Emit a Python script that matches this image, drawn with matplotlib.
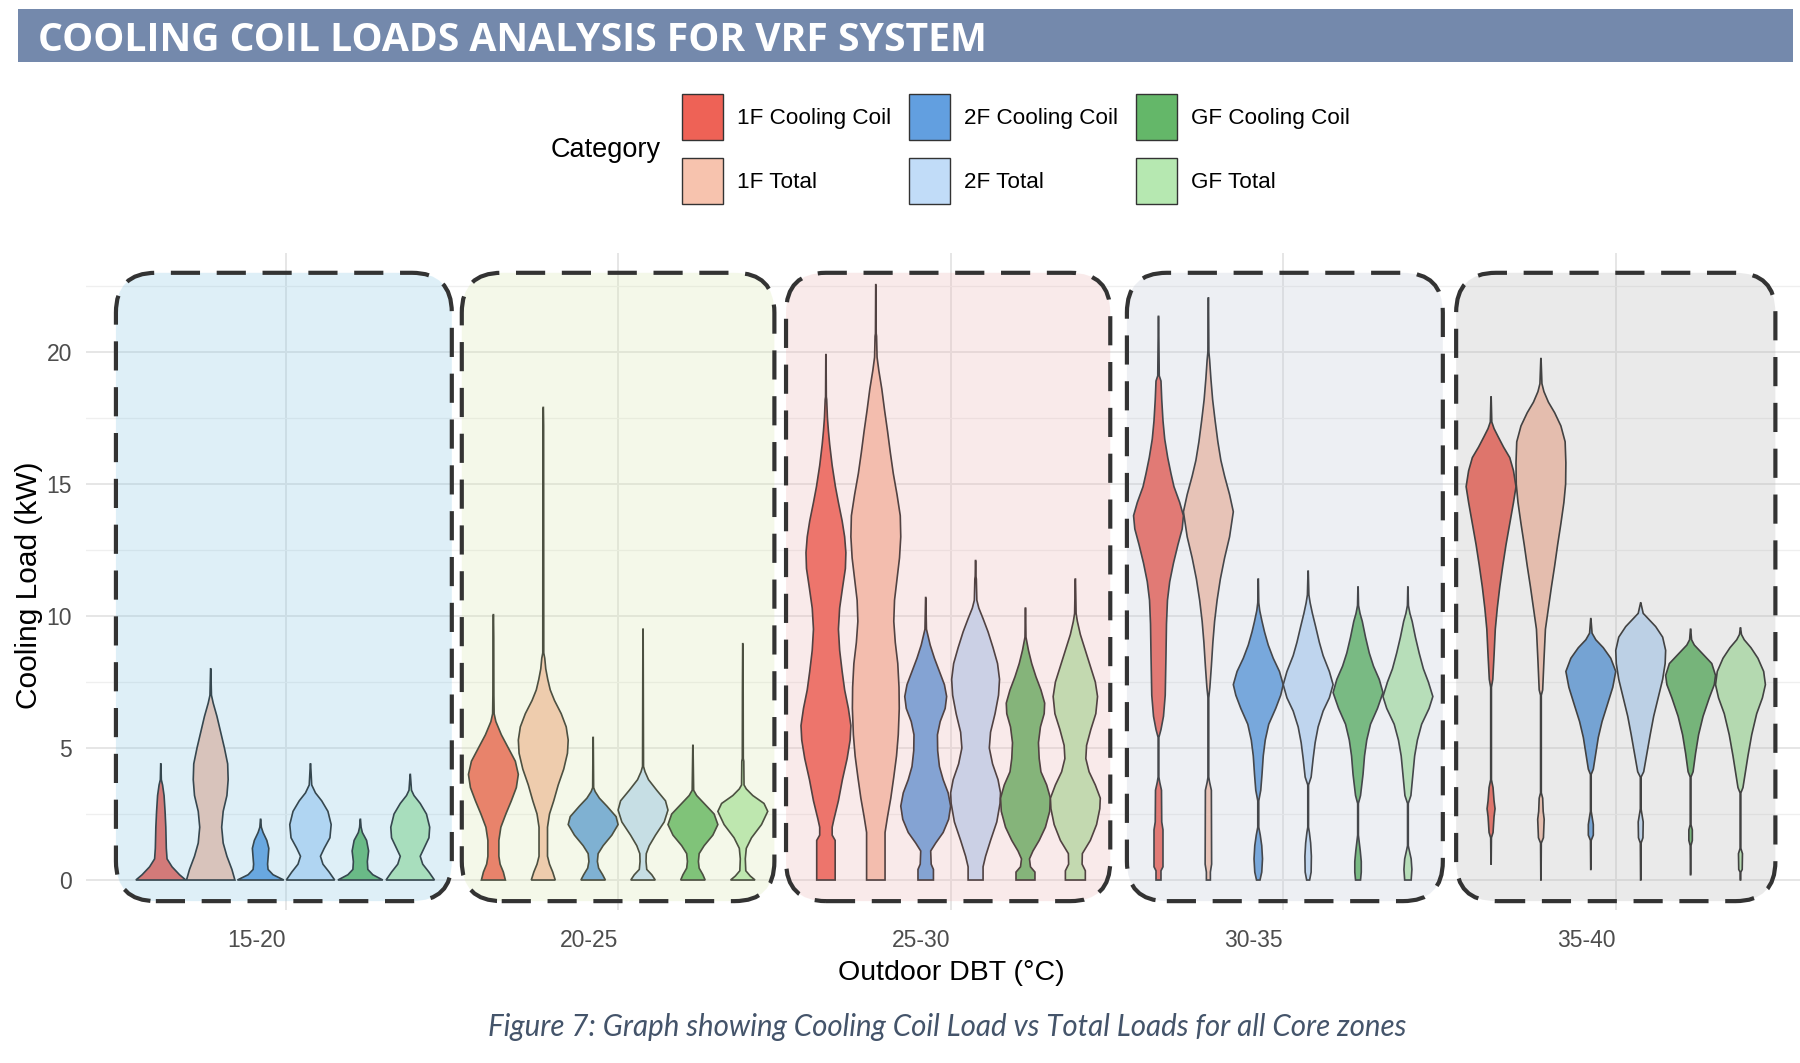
import numpy as np
import matplotlib
matplotlib.use("Agg")
import matplotlib.pyplot as plt
from matplotlib.patches import FancyBboxPatch, Patch, Rectangle

# ---- data -------------------------------------------------------------
bands = ["15-20", "20-25", "25-30", "30-35", "35-40"]
categories = ["1F Cooling Coil", "1F Total", "2F Cooling Coil",
              "2F Total", "GF Cooling Coil", "GF Total"]
colors = ["#ee6256", "#f7c3ae", "#629fe0", "#c1dcf8", "#64b769", "#b6e8b1"]

# violin outlines: (load kW, relative half width)
band_15_20 = {
    "1F Cooling Coil": [(0, 1.0), (0.2, 0.75), (0.5, 0.45), (0.8, 0.25), (1.2, 0.22), (2.0, 0.2),
                        (2.6, 0.17), (3.2, 0.13), (3.6, 0.07), (3.8, 0.02), (4.4, 0.005)],
    "1F Total": [(0, 0.97), (0.4, 0.85), (0.9, 0.65), (1.4, 0.5), (2.0, 0.44), (2.6, 0.5), (3.2, 0.65),
                 (3.8, 0.7), (4.4, 0.68), (5.0, 0.55), (5.6, 0.4), (6.2, 0.25), (6.7, 0.1), (7.0, 0.03),
                 (8.0, 0.005)],
    "2F Cooling Coil": [(0, 0.93), (0.2, 0.5), (0.4, 0.3), (0.6, 0.28), (1.2, 0.33), (1.5, 0.25),
                        (1.8, 0.1), (2.0, 0.03), (2.3, 0.005)],
    "2F Total": [(0, 0.97), (0.3, 0.75), (0.6, 0.5), (0.9, 0.4), (1.2, 0.55), (1.6, 0.78), (2.1, 0.83),
                 (2.6, 0.7), (3.0, 0.45), (3.3, 0.2), (3.6, 0.05), (4.4, 0.005)],
    "GF Cooling Coil": [(0, 0.9), (0.2, 0.5), (0.4, 0.3), (0.7, 0.28), (1.1, 0.33), (1.5, 0.25),
                        (1.8, 0.08), (2.0, 0.03), (2.3, 0.005)],
    "GF Total": [(0, 0.97), (0.3, 0.75), (0.6, 0.5), (0.9, 0.4), (1.2, 0.55), (1.6, 0.75), (2.0, 0.78),
                 (2.5, 0.65), (2.9, 0.4), (3.2, 0.15), (3.4, 0.05), (4.0, 0.005)],
}
band_20_25 = {
    "1F Cooling Coil": [(0, 0.48), (0.3, 0.4), (0.6, 0.27), (0.9, 0.22), (1.5, 0.22), (2.0, 0.3),
                        (2.5, 0.5), (3.0, 0.72), (3.5, 0.92), (4.0, 1.0), (4.5, 0.88), (5.0, 0.6),
                        (5.5, 0.32), (6.0, 0.1), (6.3, 0.03), (7.0, 0.02), (9.2, 0.015), (10.05, 0.005)],
    "1F Total": [(0, 0.48), (0.3, 0.38), (0.6, 0.25), (0.9, 0.17), (2.0, 0.17), (2.5, 0.25), (3.0, 0.42),
                 (3.6, 0.6), (4.2, 0.82), (4.8, 0.97), (5.3, 1.0), (5.8, 0.92), (6.3, 0.72), (6.8, 0.45),
                 (7.2, 0.28), (7.6, 0.18), (8.0, 0.1), (8.4, 0.06), (8.6, 0.02), (17.2, 0.015),
                 (17.9, 0.005)],
    "2F Cooling Coil": [(0, 0.49), (0.2, 0.38), (0.45, 0.22), (0.7, 0.17), (1.0, 0.2), (1.3, 0.4),
                        (1.7, 0.75), (2.1, 1.0), (2.4, 0.92), (2.8, 0.55), (3.1, 0.25), (3.35, 0.08),
                        (3.5, 0.02), (5.4, 0.005)],
    "2F Total": [(0, 0.49), (0.2, 0.35), (0.4, 0.15), (0.7, 0.12), (1.0, 0.13), (1.3, 0.25), (1.7, 0.5),
                 (2.2, 0.85), (2.65, 1.0), (3.0, 0.9), (3.4, 0.55), (3.8, 0.22), (4.1, 0.08), (4.3, 0.02),
                 (9.5, 0.005)],
    "GF Cooling Coil": [(0, 0.49), (0.2, 0.4), (0.45, 0.25), (0.7, 0.22), (1.0, 0.25), (1.3, 0.45),
                        (1.7, 0.8), (2.1, 1.0), (2.5, 0.85), (2.9, 0.45), (3.2, 0.15), (3.4, 0.03),
                        (5.1, 0.005)],
    "GF Total": [(0, 0.49), (0.15, 0.3), (0.35, 0.12), (0.8, 0.1), (1.2, 0.14), (1.6, 0.35), (2.1, 0.75),
                 (2.6, 1.0), (2.9, 0.85), (3.2, 0.4), (3.45, 0.14), (3.6, 0.05), (4.5, 0.04), (4.6, 0.02),
                 (7.1, 0.015), (8.95, 0.005)],
}
band_25_30 = {
    "1F Cooling Coil": [(0, 0.37), (1.5, 0.37), (1.7, 0.25), (2.0, 0.25), (2.3, 0.32), (3.0, 0.5),
                        (3.8, 0.66), (4.6, 0.85), (5.3, 0.97), (5.85, 1.0), (6.5, 0.9), (7.2, 0.75),
                        (7.9, 0.65), (8.7, 0.55), (9.5, 0.5), (10.3, 0.55), (11.1, 0.67), (11.8, 0.78),
                        (12.4, 0.8), (13.0, 0.75), (13.6, 0.65), (14.3, 0.5), (14.9, 0.38), (15.7, 0.25),
                        (16.5, 0.15), (17.0, 0.1), (17.5, 0.06), (18.2, 0.03), (18.3, 0.015),
                        (19.9, 0.005)],
    "1F Total": [(0, 0.37), (1.8, 0.37), (2.4, 0.47), (3.1, 0.6), (3.9, 0.72), (4.7, 0.83), (5.5, 0.9),
                 (6.5, 0.94), (7.3, 0.93), (8.2, 0.88), (9.0, 0.78), (9.8, 0.72), (10.6, 0.75),
                 (11.4, 0.85), (12.2, 0.95), (13.0, 1.0), (13.8, 0.98), (14.6, 0.85), (15.4, 0.7),
                 (16.2, 0.58), (17.0, 0.47), (17.8, 0.35), (18.6, 0.24), (19.3, 0.12), (19.8, 0.05),
                 (20.6, 0.03), (20.7, 0.015), (22.55, 0.005)],
    "2F Cooling Coil": [(0, 0.31), (0.4, 0.31), (0.6, 0.22), (1.1, 0.2), (1.4, 0.4), (1.8, 0.7),
                        (2.3, 0.92), (2.8, 1.0), (3.3, 0.9), (3.8, 0.7), (4.3, 0.55), (4.9, 0.48),
                        (5.5, 0.47), (6.0, 0.58), (6.5, 0.78), (6.95, 0.84), (7.4, 0.75), (7.9, 0.55),
                        (8.4, 0.35), (8.9, 0.18), (9.3, 0.08), (9.5, 0.03), (10.7, 0.005)],
    "2F Total": [(0, 0.3), (0.5, 0.3), (0.9, 0.4), (1.5, 0.6), (2.2, 0.85), (2.9, 0.98), (3.3, 1.0),
                 (3.8, 0.9), (4.4, 0.68), (5.0, 0.55), (5.6, 0.6), (6.3, 0.78), (7.0, 0.92), (7.6, 0.96),
                 (8.2, 0.88), (8.8, 0.7), (9.4, 0.5), (9.9, 0.3), (10.3, 0.13), (10.6, 0.05),
                 (11.4, 0.03), (11.5, 0.015), (12.1, 0.005)],
    "GF Cooling Coil": [(0, 0.38), (0.3, 0.38), (0.5, 0.2), (0.8, 0.16), (1.1, 0.3), (1.5, 0.55),
                        (2.0, 0.8), (2.6, 0.97), (3.1, 1.0), (3.6, 0.85), (4.1, 0.62), (4.6, 0.55),
                        (5.2, 0.52), (5.8, 0.6), (6.3, 0.75), (6.7, 0.77), (7.2, 0.62), (7.7, 0.42),
                        (8.2, 0.25), (8.7, 0.12), (9.0, 0.06), (9.2, 0.02), (10.3, 0.005)],
    "GF Total": [(0, 0.4), (0.35, 0.4), (0.6, 0.27), (1.0, 0.28), (1.5, 0.6), (2.1, 0.85), (2.7, 0.98),
                 (3.1, 1.0), (3.6, 0.8), (4.1, 0.55), (4.6, 0.42), (5.1, 0.45), (5.7, 0.62), (6.3, 0.82),
                 (6.95, 0.89), (7.5, 0.8), (8.1, 0.6), (8.7, 0.4), (9.3, 0.2), (9.8, 0.08), (10.1, 0.03),
                 (11.4, 0.005)],
}
band_30_35 = {
    "1F Cooling Coil": [(0, 0.1), (0.35, 0.1), (0.5, 0.18), (1.9, 0.18), (2.2, 0.13), (3.4, 0.12),
                        (3.7, 0.05), (3.9, 0.015), (5.4, 0.015), (5.7, 0.1), (6.2, 0.2), (7.0, 0.27),
                        (8.5, 0.3), (9.7, 0.32), (10.6, 0.36), (11.3, 0.45), (12.0, 0.6), (12.7, 0.78),
                        (13.3, 0.95), (13.8, 1.0), (14.3, 0.85), (14.9, 0.62), (15.4, 0.5), (16.0, 0.37),
                        (16.7, 0.25), (17.4, 0.18), (18.2, 0.13), (18.9, 0.1), (19.1, 0.03),
                        (21.35, 0.005)],
    "1F Total": [(0, 0.08), (0.3, 0.08), (0.6, 0.13), (3.4, 0.12), (3.7, 0.05), (3.9, 0.015),
                 (6.9, 0.015), (7.3, 0.06), (8.1, 0.12), (9.0, 0.18), (9.8, 0.25), (10.6, 0.35),
                 (11.4, 0.48), (12.2, 0.65), (13.0, 0.85), (13.95, 1.0), (14.6, 0.85), (15.3, 0.65),
                 (15.9, 0.5), (16.6, 0.38), (17.4, 0.27), (18.2, 0.17), (19.0, 0.1), (19.7, 0.05),
                 (20.0, 0.02), (22.05, 0.005)],
    "2F Cooling Coil": [(0, 0.07), (0.3, 0.14), (0.8, 0.17), (1.3, 0.14), (1.7, 0.08), (2.0, 0.02),
                        (3.0, 0.02), (3.4, 0.1), (4.0, 0.15), (4.7, 0.2), (5.3, 0.28), (5.9, 0.42),
                        (6.5, 0.7), (7.0, 0.9), (7.4, 1.0), (7.9, 0.85), (8.4, 0.6), (8.9, 0.4),
                        (9.4, 0.25), (9.8, 0.15), (10.2, 0.06), (10.5, 0.02), (11.4, 0.005)],
    "2F Total": [(0, 0.06), (0.3, 0.12), (0.9, 0.13), (1.4, 0.1), (1.8, 0.05), (2.0, 0.015),
                 (3.6, 0.015), (3.9, 0.12), (4.6, 0.2), (5.2, 0.28), (5.8, 0.4), (6.4, 0.6), (6.9, 0.85),
                 (7.4, 1.0), (7.9, 0.85), (8.5, 0.6), (9.0, 0.45), (9.6, 0.3), (10.1, 0.17), (10.5, 0.08),
                 (10.8, 0.03), (11.7, 0.005)],
    "GF Cooling Coil": [(0, 0.1), (0.3, 0.13), (0.7, 0.13), (1.1, 0.09), (1.5, 0.04), (1.7, 0.015),
                        (2.9, 0.015), (3.2, 0.1), (4.0, 0.2), (4.7, 0.26), (5.3, 0.35), (5.9, 0.5),
                        (6.5, 0.78), (7.1, 1.0), (7.6, 0.85), (8.1, 0.62), (8.6, 0.45), (9.2, 0.3),
                        (9.8, 0.17), (10.1, 0.08), (10.4, 0.02), (11.1, 0.005)],
    "GF Total": [(0, 0.13), (0.4, 0.16), (0.8, 0.13), (1.1, 0.06), (1.3, 0.015), (2.9, 0.015),
                 (3.2, 0.12), (4.0, 0.2), (4.7, 0.27), (5.3, 0.38), (5.9, 0.55), (6.5, 0.85), (6.95, 1.0),
                 (7.5, 0.82), (8.0, 0.62), (8.6, 0.45), (9.2, 0.3), (9.8, 0.17), (10.1, 0.08),
                 (10.4, 0.02), (11.1, 0.005)],
}
band_35_40 = {
    "1F Cooling Coil": [(0.6, 0.005), (1.6, 0.015), (1.8, 0.08), (2.4, 0.12), (2.7, 0.16), (3.0, 0.12),
                        (3.5, 0.08), (3.8, 0.015), (7.3, 0.015), (7.6, 0.07), (8.5, 0.12), (9.5, 0.17),
                        (10.3, 0.25), (11.1, 0.35), (11.9, 0.47), (12.7, 0.6), (13.5, 0.75), (14.3, 0.9),
                        (14.9, 1.0), (15.5, 0.9), (16.0, 0.75), (16.4, 0.5), (16.8, 0.28), (17.1, 0.12),
                        (17.35, 0.03), (18.3, 0.005)],
    "1F Total": [(0, 0.005), (1.4, 0.015), (1.6, 0.1), (2.3, 0.13), (2.6, 0.09), (3.1, 0.07),
                 (3.3, 0.015), (7.0, 0.015), (7.2, 0.07), (8.3, 0.12), (9.5, 0.18), (10.3, 0.3),
                 (11.1, 0.42), (11.9, 0.55), (12.7, 0.67), (13.5, 0.8), (14.3, 0.92), (15.0, 0.99),
                 (15.8, 1.0), (16.6, 0.97), (17.2, 0.8), (17.7, 0.55), (18.1, 0.3), (18.5, 0.12),
                 (18.8, 0.04), (19.75, 0.005)],
    "2F Cooling Coil": [(0.4, 0.005), (1.5, 0.015), (1.7, 0.1), (2.1, 0.1), (2.4, 0.05), (2.6, 0.015),
                        (4.0, 0.015), (4.2, 0.1), (4.8, 0.2), (5.4, 0.3), (6.0, 0.45), (6.6, 0.65),
                        (7.3, 0.88), (7.9, 1.0), (8.4, 0.8), (8.8, 0.5), (9.1, 0.2), (9.35, 0.05),
                        (9.9, 0.005)],
    "2F Total": [(0, 0.005), (1.4, 0.015), (1.6, 0.09), (2.2, 0.1), (2.6, 0.03), (2.7, 0.015),
                 (3.9, 0.015), (4.1, 0.12), (4.8, 0.25), (5.5, 0.38), (6.2, 0.52), (6.9, 0.7), (7.6, 0.88),
                 (8.2, 0.98), (8.7, 1.0), (9.2, 0.88), (9.6, 0.6), (9.9, 0.3), (10.1, 0.1),
                 (10.5, 0.005)],
    "GF Cooling Coil": [(0.2, 0.005), (1.3, 0.015), (1.5, 0.07), (1.9, 0.07), (2.1, 0.015), (3.9, 0.015),
                        (4.1, 0.1), (4.8, 0.2), (5.5, 0.32), (6.2, 0.5), (6.9, 0.75), (7.4, 0.95),
                        (7.75, 1.0), (8.2, 0.85), (8.6, 0.45), (8.9, 0.15), (9.1, 0.04), (9.5, 0.005)],
    "GF Total": [(0, 0.005), (0.3, 0.015), (0.4, 0.07), (1.0, 0.08), (1.2, 0.015), (3.3, 0.015),
                 (3.5, 0.1), (4.1, 0.2), (4.7, 0.3), (5.5, 0.45), (6.3, 0.65), (6.9, 0.88), (7.4, 1.0),
                 (7.9, 0.93), (8.4, 0.7), (8.8, 0.42), (9.1, 0.15), (9.3, 0.04), (9.55, 0.005)],
}
band_profiles = [band_15_20, band_20_25, band_25_30, band_30_35, band_35_40]

# ---- layout / style ---------------------------------------------------
W, H = 1800, 1063
DODGE = 0.15
MAX_HALF = 0.075
box_left = [0.49, 1.53, 2.505, 3.53, 4.52]
box_right = [1.50, 2.47, 3.48, 4.48, 5.48]
box_tint = ["#7fc3e3", "#d7e7ab", "#ebafaf", "#bbc3d3", "#afafaf"]
FONT = "Liberation Sans"

fig = plt.figure(figsize=(W / 100, H / 100), dpi=100)

# title banner
fig.patches.append(Rectangle((18 / W, 1 - 62 / H), (1793 - 18) / W, 53 / H,
                             transform=fig.transFigure, facecolor="#7489ac",
                             edgecolor="none", zorder=0))
title = fig.text(38 / W, 1 - 51 / H, "COOLING COIL LOADS ANALYSIS FOR VRF SYSTEM",
                 color="white", fontsize=30, fontweight="bold", family="Open Sans",
                 ha="left", va="baseline")

ax = fig.add_axes([86 / W, 1 - 910 / H, (W - 86) / W, (910 - 253) / H])
ax.set_xlim(0.4, 5.554)
ax.set_ylim(-1.136, 23.75)
for s in ax.spines.values():
    s.set_visible(False)

ax.set_xticks(range(1, len(bands) + 1))
ax.set_xticklabels(bands, ha="right")
ax.set_yticks([0, 5, 10, 15, 20])
ax.set_yticks([2.5, 7.5, 12.5, 17.5, 22.5], minor=True)
ax.tick_params(axis="both", which="both", length=0, colors="#4d4d4d", labelsize=16.5)
ax.tick_params(axis="y", pad=10)
ax.tick_params(axis="x", pad=14)
for lab in ax.get_xticklabels() + ax.get_yticklabels():
    lab.set_family(FONT)
ax.grid(True, which="major", color="#e6e6e6", lw=1.4, zorder=0)
ax.grid(True, which="minor", axis="y", color="#efefef", lw=0.9, zorder=0)
ax.set_axisbelow(True)

# violins
for gi, prof_set in enumerate(band_profiles):
    for ci, cat in enumerate(categories):
        prof = np.array(prof_set[cat])
        y, w = prof[:, 0], prof[:, 1] * MAX_HALF
        xc = gi + 1 + (ci - 2.5) * DODGE
        ax.fill(np.r_[xc - w, (xc + w)[::-1]], np.r_[y, y[::-1]],
                facecolor=colors[ci], edgecolor="#1e1e1e", lw=1.2, zorder=2)

# tinted rounded boxes laid over each temperature band
aspect = (332.25) / (657 / (23.75 + 1.136))
for gi in range(len(bands)):
    for kind in ("fill", "edge"):
        p = FancyBboxPatch((box_left[gi], -0.8), box_right[gi] - box_left[gi], 23.8,
                           boxstyle="round,pad=0,rounding_size=0.12",
                           mutation_aspect=aspect, zorder=3 if kind == "fill" else 4)
        if kind == "fill":
            p.set_facecolor(box_tint[gi]); p.set_alpha(0.25); p.set_edgecolor("none")
        else:
            p.set_facecolor("none"); p.set_edgecolor("#333333"); p.set_linewidth(3)
            p.set_linestyle((0, (7, 4)))
        ax.add_patch(p)

# axis titles
fig.text(951 / W, 1 - 973 / H, "Outdoor DBT (°C)", ha="center", va="center",
         fontsize=20.5, family=FONT, color="black")
fig.text(29 / W, 1 - 585 / H, "Cooling Load (kW)", ha="center", va="center",
         rotation=90, fontsize=21.5, family=FONT, color="black")

# legend
handles = [Patch(facecolor=c, edgecolor="#333333", lw=1.0, label=l)
           for c, l in zip(colors, categories)]
fig.legend(handles=handles, ncol=3, loc="upper left", frameon=False,
           bbox_to_anchor=(682 / W, 1 - 94 / H), borderpad=0, borderaxespad=0,
           prop={"family": FONT, "size": 16.2}, handlelength=1.82, handleheight=2.77,
           handletextpad=0.62, columnspacing=0.8, labelspacing=0.8)
fig.text(551 / W, 1 - 150 / H, "Category", ha="left", va="center",
         fontsize=19.5, family=FONT, color="black")

caption = fig.text(947 / W, 1 - 1027 / H,
                   "Figure 7: Graph showing Cooling Coil Load vs Total Loads for all Core zones",
                   ha="center", va="center", fontsize=20, style="italic", family="Lato",
                   color="#44546a")

# size the title and caption so they span the same width as in the source
fig.canvas.draw()
r = fig.canvas.get_renderer()
for t, target in ((title, 949), (caption, 918)):
    wpx = t.get_window_extent(r).width
    t.set_fontsize(t.get_fontsize() * target / wpx)

fig.savefig("out.png", dpi=100)
